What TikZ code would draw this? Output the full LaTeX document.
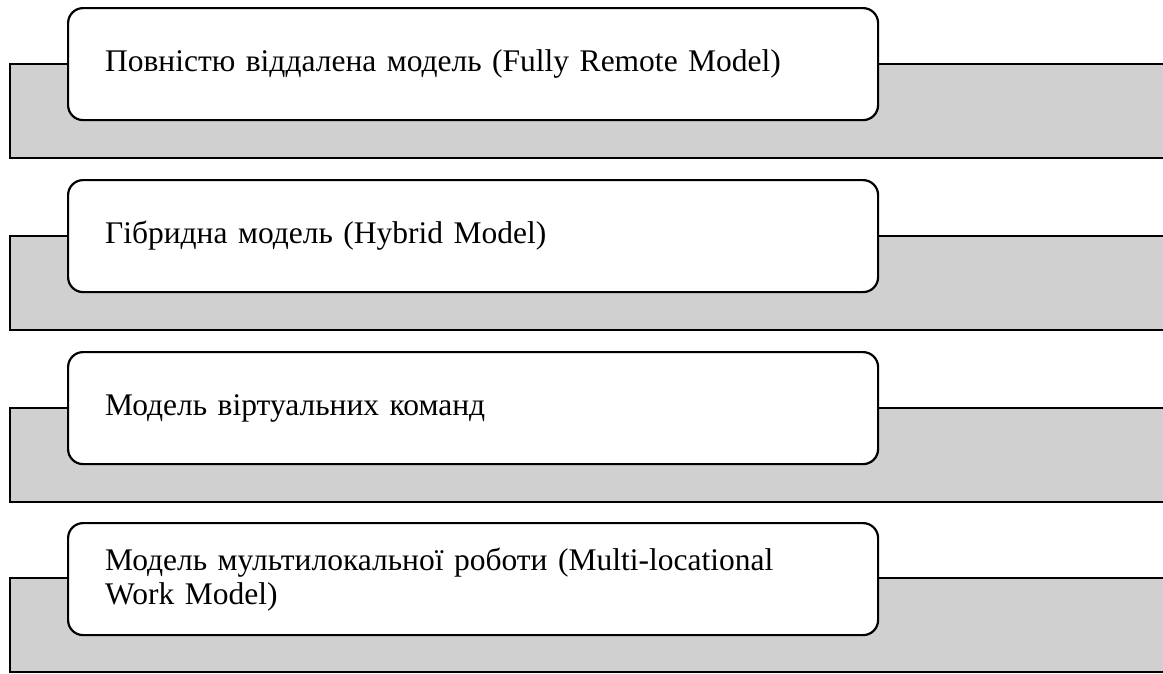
\documentclass[tikz,border=0pt]{standalone}
\usepackage{fontspec}
\setmainfont{Liberation Serif}
\usepackage{xcolor}
\definecolor{bandgray}{HTML}{D0D0D0}
\usetikzlibrary{positioning}

\begin{document}
\begin{tikzpicture}[x=1pt,y=-1pt,
    band/.style={draw,line width=2.4pt,fill=bandgray,anchor=north west,
      minimum width=1170pt,minimum height=94pt,inner sep=0pt},
    model/.style={draw,line width=2.2pt,fill=white,rounded corners=15pt,
      anchor=north west,minimum width=810pt,minimum height=112pt,
      text width=736pt,inner xsep=37pt,inner ysep=0pt,align=left,
      font=\fontsize{31.5}{34}\selectfont}]
      \clip (0,0) rectangle (1163,673);
      \useasboundingbox (0,0) rectangle (1163,673);
      \node[band] (band1) at (9,63) {};
      \node[model] (m1) at (67,7) {Повністю віддалена модель (Fully Remote Model)};
      \node[band] (band2) at (9,235) {};
      \node[model] (m2) at (67,179) {Гібридна модель (Hybrid Model)};
      \node[band] (band3) at (9,407) {};
      \node[model] (m3) at (67,351) {Модель віртуальних команд};
      \node[band] (band4) at (9,577) {};
      \node[model] (m4) at (67,522) {Модель мультилокальної роботи (Multi-locational\\Work Model)};
    \end{tikzpicture}
\end{document}
